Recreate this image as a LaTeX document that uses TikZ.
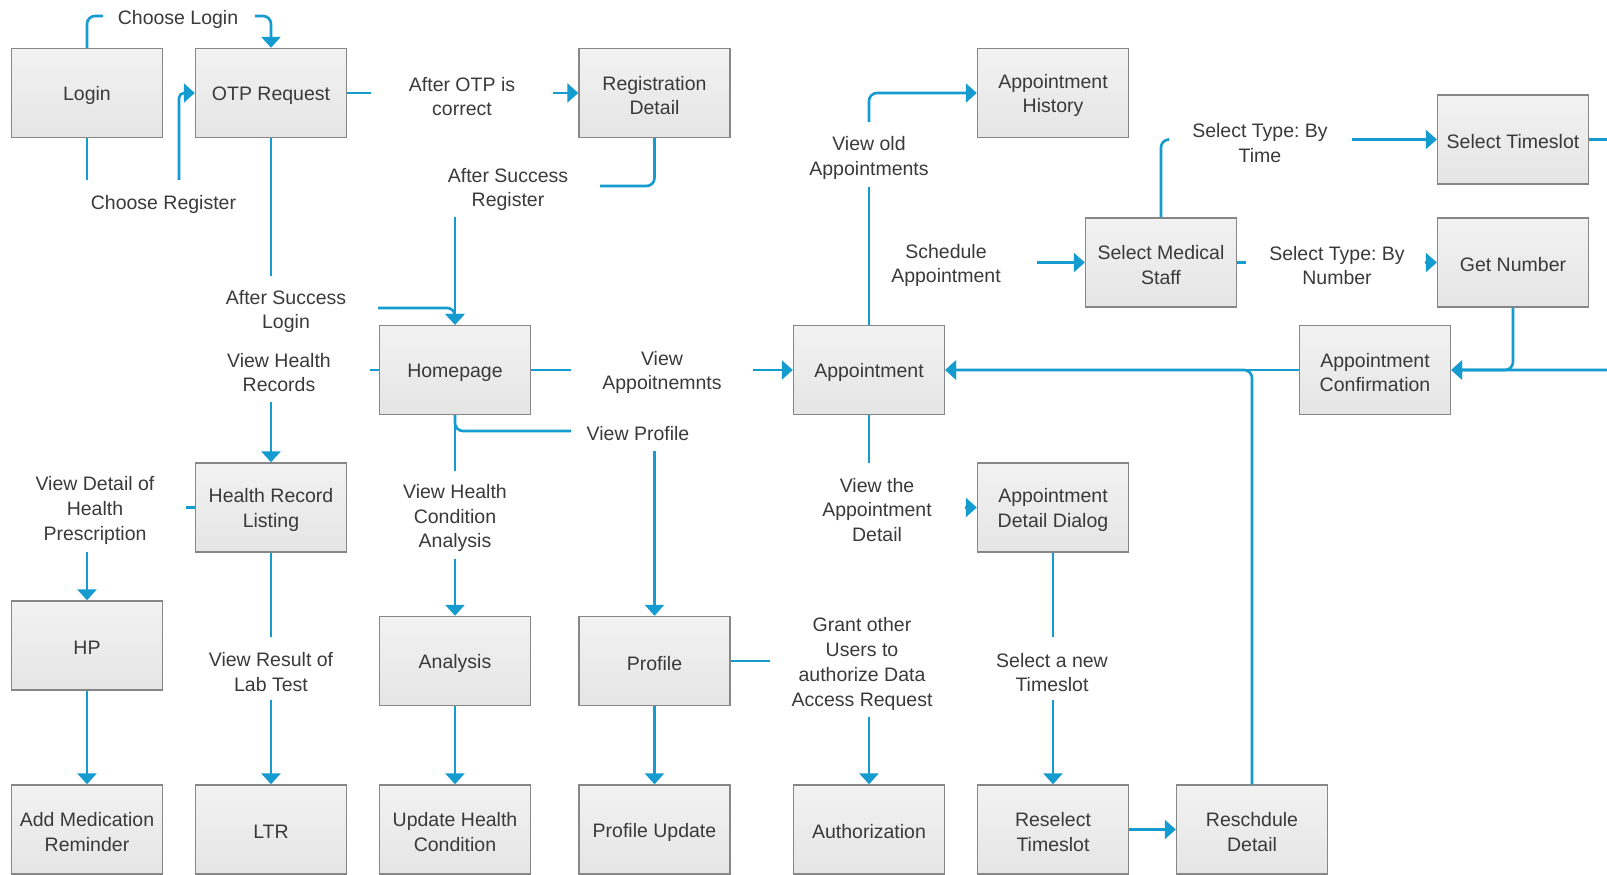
\documentclass[tikz,border=0pt]{standalone}
\usepackage{fontspec}
\setmainfont{Liberation Sans}
\usetikzlibrary{arrows.meta}
\frenchspacing

\definecolor{flow}{RGB}{20,155,208}
\definecolor{boxline}{RGB}{135,135,135}
\definecolor{boxtop}{RGB}{242,242,242}
\definecolor{boxbot}{RGB}{229,229,229}
\definecolor{ink}{RGB}{58,58,58}
\newcommand\diagfont{\fontsize{19.5}{24.8}\selectfont}

\begin{document}
\begin{tikzpicture}[x=1pt,y=-1pt,
  lbl/.style={align=center, text=ink, inner sep=0pt, font=\diagfont, yshift=-2.5pt},
  screen/.style={draw=boxline, line width=1.4pt, top color=boxtop, bottom color=boxbot,
    minimum width=151pt, minimum height=89pt, inner sep=0pt,
    label={[lbl]center:{#1}}},
  link/.style={draw=flow, line width=2.6pt, rounded corners=8pt},
  go/.style={link, -{Triangle[length=11pt,width=19pt]}},
]
\useasboundingbox[fill=white] (0,0) rectangle (1607,875);

% ---- screens ----
\node[screen={Login}]                        (login)    at (87,93)       {};
\node[screen={OTP Request}]                  (otp)      at (271,93)      {};
\node[screen={Registration\\Detail}]         (reg)      at (654.5,93)    {};
\node[screen={Appointment\\History}]         (hist)     at (1053,93)     {};
\node[screen={Select Timeslot}]              (seltime)  at (1513,139.5)  {};
\node[screen={Select Medical\\Staff}]        (selmed)   at (1161,262.5)  {};
\node[screen={Get Number}]                   (getnum)   at (1513,262.5)  {};
\node[screen={Homepage}]                     (home)     at (455,370)     {};
\node[screen={Appointment}]                  (appt)     at (869,370)     {};
\node[screen={Appointment\\Confirmation}]    (conf)     at (1375,370)    {};
\node[screen={Health Record\\Listing}]       (hrl)      at (271,507.5)   {};
\node[screen={Appointment\\Detail Dialog}]   (dlg)      at (1053,507.5)  {};
\node[screen={HP}]                           (hp)       at (87,645.5)    {};
\node[screen={Analysis}]                     (analysis) at (455,661)     {};
\node[screen={Profile}]                      (profile)  at (654.5,661)   {};
\node[screen={Add Medication\\Reminder}]     (addmed)   at (87,829.5)    {};
\node[screen={LTR}]                          (ltr)      at (271,829.5)   {};
\node[screen={Update Health\\Condition}]     (updh)     at (455,829.5)   {};
\node[screen={Profile Update}]               (pupd)     at (654.5,829.5) {};
\node[screen={Authorization}]                (auth)     at (869,829.5)   {};
\node[screen={Reselect\\Timeslot}]           (resel)    at (1053,829.5)  {};
\node[screen={Reschdule\\Detail}]            (resch)    at (1252,829.5)  {};

% ---- break points where a label interrupts a connector ----
\coordinate (cl1) at (103,16);    \coordinate (cl2) at (255,16);
\coordinate (cr1) at (87,180);    \coordinate (cr2) at (179,180);
\coordinate (ao1) at (371,93);    \coordinate (ao2) at (553,93);
\coordinate (sr1) at (600,186);   \coordinate (sr2) at (455,217);
\coordinate (sl1) at (271,276);   \coordinate (sl2) at (378,308);
\coordinate (vh1) at (370,370);   \coordinate (vh2) at (271,402);
\coordinate (va1) at (571,370);   \coordinate (va2) at (753,370);
\coordinate (vp1) at (571,431);   \coordinate (vp2) at (654.5,451);
\coordinate (vc1) at (455,471);   \coordinate (vc2) at (455,559);
\coordinate (vd1) at (186,507.5); \coordinate (vd2) at (87,552);
\coordinate (vr1) at (271,637);   \coordinate (vr2) at (271,700);
\coordinate (gr1) at (770,661);   \coordinate (gr2) at (869,717);
\coordinate (vt1) at (869,463);   \coordinate (vt2) at (965,507.5);
\coordinate (vo1) at (869,187);   \coordinate (vo2) at (869,122);
\coordinate (sa)  at (1037,262.5);
\coordinate (st1) at (1168,139.5);\coordinate (st2) at (1352,139.5);
\coordinate (sn1) at (1246,262.5);\coordinate (sn2) at (1425,262.5);
\coordinate (sw1) at (1053,637);  \coordinate (sw2) at (1053,700);
\coordinate (edgeA) at (1625,139.5); \coordinate (edgeB) at (1625,370);

% ---- connectors ----
\draw[link] (login.north) |- (cl1);
\draw[go]   (cl2) -| (otp.north);
\draw[link] (login.south) -- (cr1);
\draw[go, rounded corners=5pt] (cr2) |- (otp.west);
\draw[link] (otp.east) -- (ao1);
\draw[go]   (ao2) -- (reg.west);
\draw[link] (reg.south) |- (sr1);
\draw[go]   (sr2) -- (home.north);
\draw[link] (otp.south) -- (sl1);
\draw[go]   (sl2) -| (home.north);
\draw[link] (home.west) -- (vh1);
\draw[go]   (vh2) -- (hrl.north);
\draw[link] (home.east) -- (va1);
\draw[go]   (va2) -- (appt.west);
\draw[link] (home.south) |- (vp1);
\draw[go]   (vp2) -- (profile.north);
\draw[link] (home.south) -- (vc1);
\draw[go]   (vc2) -- (analysis.north);
\draw[link] (hrl.west) -- (vd1);
\draw[go]   (vd2) -- (hp.north);
\draw[link] (hrl.south) -- (vr1);
\draw[go]   (vr2) -- (ltr.north);
\draw[go]   (hp.south) -- (addmed.north);
\draw[go]   (analysis.south) -- (updh.north);
\draw[go]   (profile.south) -- (pupd.north);
\draw[link] (profile.east) -- (gr1);
\draw[go]   (gr2) -- (auth.north);
\draw[link] (appt.south) -- (vt1);
\draw[go]   (vt2) -- (dlg.west);
\draw[link] (appt.north) -- (vo1);
\draw[go]   (vo2) |- (hist.west);
\draw[go]   (sa) -- (selmed.west);
\draw[link] (selmed.north) |- (st1);
\draw[go]   (st2) -- (seltime.west);
\draw[link] (selmed.east) -- (sn1);
\draw[go]   (sn2) -- (getnum.west);
\draw[go]   (seltime.east) -- (edgeA) -- (edgeB) -- (conf.east);
\draw[go]   (getnum.south) |- (conf.east);
\draw[go]   (conf.west) -- (appt.east);
\draw[go]   (resch.north) |- (appt.east);
\draw[link] (dlg.south) -- (sw1);
\draw[go]   (sw2) -- (resel.north);
\draw[go]   (resel.east) -- (resch.west);

% ---- labels ----
\node[lbl] (tcl) at (178,17)     {Choose Login};
\node[lbl] (tcr) at (163.5,202)  {Choose Register};
\node[lbl] (tao) at (462,94)     {After OTP is\\correct};
\node[lbl] (tsr) at (508,187)    {After Success\\Register};
\node[lbl] (tsl) at (286,309)    {After Success\\Login};
\node[lbl] (tvh) at (279,370)    {View Health\\Records};
\node[lbl] (tva) at (662,370)    {View\\Appoitnemnts};
\node[lbl] (tvp) at (638,431.5)  {View Profile};
\node[lbl] (tvc) at (455,515.5)  {View Health\\Condition\\Analysis};
\node[lbl] (tvd) at (95,508)     {View Detail of\\Health\\Prescription};
\node[lbl] (tvr) at (271,669.5)  {View Result of\\Lab Test};
\node[lbl] (tgr) at (862,661.5)  {Grant other\\Users to\\authorize Data\\Access Request};
\node[lbl] (tvt) at (877,507.5)  {View the\\Appointment\\Detail};
\node[lbl] (tvo) at (869,155.5)  {View old\\Appointments};
\node[lbl] (tsa) at (946,263)    {Schedule\\Appointment};
\node[lbl] (tst) at (1260,140.5) {Select Type: By\\Time};
\node[lbl] (tsn) at (1337,263)   {Select Type: By\\Number};
\node[lbl] (tsw) at (1052,670)   {Select a new\\Timeslot};
\end{tikzpicture}
\end{document}
